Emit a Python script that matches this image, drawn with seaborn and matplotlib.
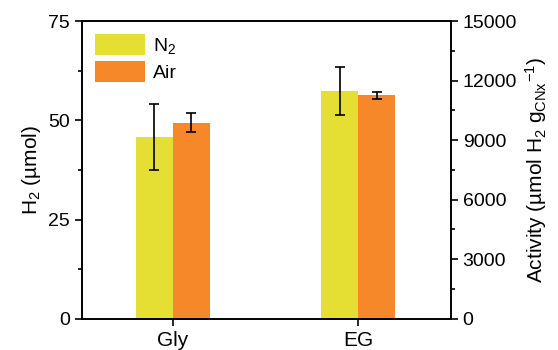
import matplotlib
matplotlib.use("Agg")
import matplotlib.pyplot as plt
from matplotlib.ticker import MultipleLocator
import seaborn as sns
import pandas as pd

# data
samples = ["Gly", "EG"]
gases = ["N$_2$", "Air"]
h2_n2 = [45.9, 57.3]
h2_air = [49.4, 56.3]
err_n2 = [8.3, 6.0]
err_air = [2.4, 0.9]
colors = ["#E5DE33", "#F6882A"]

df = pd.DataFrame({
    "sample": samples * 2,
    "gas": [gases[0]] * 2 + [gases[1]] * 2,
    "h2": h2_n2 + h2_air,
    "err": err_n2 + err_air,
})

sns.set_style("ticks")
plt.rcParams["font.family"] = ["Liberation Sans", "DejaVu Sans"]
plt.rcParams["mathtext.fontset"] = "custom"
plt.rcParams["mathtext.rm"] = "Liberation Sans"
plt.rcParams["mathtext.it"] = "Liberation Sans:italic"
plt.rcParams["mathtext.bf"] = "Liberation Sans:bold"
for k in ["text.color", "axes.labelcolor", "xtick.color", "ytick.color", "axes.edgecolor"]:
    plt.rcParams[k] = "black"

fig = plt.figure(figsize=(5.58, 3.5), dpi=100)
ax = fig.add_axes([0.147, 0.089, 0.661, 0.851])

sns.barplot(data=df, x="sample", y="h2", hue="gas", palette=colors,
            width=0.4, errorbar=None, saturation=1, linewidth=0, ax=ax)

# error bars at the bar centres that seaborn placed
for cont, g in zip(ax.containers, gases):
    sub = df[df["gas"] == g]
    xs = [p.get_x() + p.get_width() / 2 for p in cont]
    ax.errorbar(xs, sub["h2"], yerr=sub["err"], fmt="none", ecolor="black",
                elinewidth=1.2, capsize=3.5, capthick=1.2)

ax.set_xlim(-0.49, 1.5)
ax.set_ylim(0, 75)
ax.set_yticks([0, 25, 50, 75])
ax.yaxis.set_minor_locator(MultipleLocator(12.5))
ax.set_xlabel("")
ax.set_ylabel("H$_2$ (µmol)", fontsize=15)
ax.tick_params(labelsize=14, width=1.2, length=5)
ax.tick_params(axis="x", labelsize=15)
ax.tick_params(which="minor", length=3, width=1.2)
for s in ax.spines.values():
    s.set_linewidth(1.2)
    s.set_visible(True)

ax.legend(loc="upper left", frameon=False, fontsize=14, handlelength=2.6,
          handleheight=1.3, borderaxespad=0.25, labelspacing=0.25,
          handletextpad=0.4)

ax2 = ax.twinx()
ax2.set_ylim(0, 15000)
ax2.set_yticks(range(0, 15001, 3000))
ax2.yaxis.set_minor_locator(MultipleLocator(1500))
ax2.set_ylabel("Activity (µmol H$_2$ g$_{\\mathrm{CNx}}$$^{-1}$)", fontsize=15)
ax2.tick_params(labelsize=14, width=1.2, length=5)
ax2.tick_params(which="minor", length=3, width=1.2)
for s in ax2.spines.values():
    s.set_linewidth(1.2)

fig.savefig("out.png", dpi=100)
